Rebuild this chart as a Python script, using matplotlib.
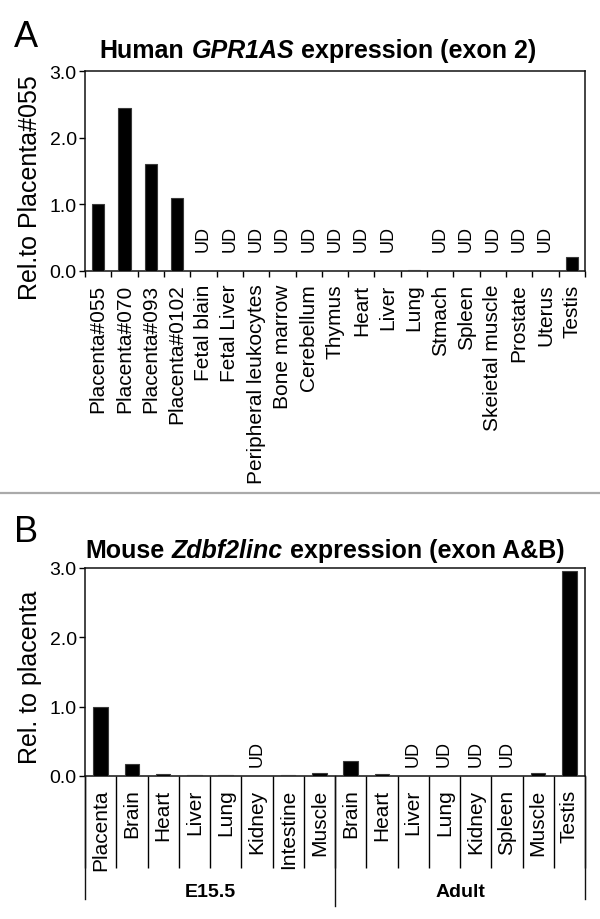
import matplotlib
matplotlib.use("Agg")
import matplotlib.pyplot as plt
import matplotlib.transforms as mtransforms
from matplotlib.lines import Line2D
import numpy as np

plt.rcParams["font.family"] = ["Liberation Sans", "DejaVu Sans"]

# ── Data ──────────────────────────────────────────────────────────────────
human_tissues = ["Placenta#055", "Placenta#070", "Placenta#093", "Placenta#0102",
                 "Fetal blain", "Fetal Liver", "Peripheral leukocytes",
                 "Bone marrow", "Cerebellum", "Thymus", "Heart", "Liver", "Lung",
                 "Stmach", "Spleen", "Skeietal muscle", "Prostate", "Uterus",
                 "Testis"]
# None = undetected (UD)
human_values = [1.0, 2.45, 1.6, 1.1, None, None, None, None, None, None, None,
                None, 0.02, None, None, None, None, None, 0.21]

mouse_tissues = ["Placenta", "Brain", "Heart", "Liver", "Lung", "Kidney",
                 "Intestine", "Muscle",
                 "Brain", "Heart", "Liver", "Lung", "Kidney", "Spleen",
                 "Muscle", "Testis"]
mouse_values = [1.0, 0.18, 0.03, 0.02, 0.01, None, 0.02, 0.04,
                0.21, 0.03, None, None, None, None, 0.05, 2.95]
mouse_groups = ["E15.5", "Adult"]
mouse_group_sizes = [8, 8]

W, H = 600, 920
LBL = 15      # category label size
TICK = 14


def box(l, t, r, b):
    return [l / W, 1 - b / H, (r - l) / W, (b - t) / H]


def style_axes(ax):
    for sp in ax.spines.values():
        sp.set_linewidth(1.1)
        sp.set_color("#111111")
    ax.set_ylim(0, 3.0)
    ax.set_yticks([0, 1, 2, 3])
    ax.set_yticklabels(["0.0", "1.0", "2.0", "3.0"], fontsize=TICK)
    ax.tick_params(axis="y", direction="out", length=4, width=1.0, pad=2)


def draw_bars(ax, values, ud_y):
    n = len(values)
    x = np.arange(n)
    heights = [0 if v is None else v for v in values]
    ax.bar(x, heights, width=0.46, color="black", edgecolor="#3a3a3a",
           linewidth=0.8, zorder=3)
    for xi, v in zip(x, values):
        if v is None:
            ax.text(xi, ud_y, "UD", rotation=90, ha="center", va="bottom",
                    fontsize=13)
    ax.set_xlim(-0.5, n - 0.5)
    return x


def mixed_title(fig, cx, base, parts, size=18):
    # bold title with an italic gene name, laid out piece by piece
    r = fig.canvas.get_renderer()
    gap = 0.278 * size * 100 / 72
    texts = [fig.text(0, 1 - base / H, s, fontsize=size, fontweight="bold",
                      fontstyle=st, va="baseline") for s, st in parts]
    widths = [t.get_window_extent(r).width for t in texts]
    x = cx - (sum(widths) + gap * (len(parts) - 1)) / 2
    for t, w in zip(texts, widths):
        t.set_x(x / W)
        x += w + gap


fig = plt.figure(figsize=(W / 100, H / 100), dpi=100)

# ══════════════════════════════════════════════════════════════════════
# Panel A
# ══════════════════════════════════════════════════════════════════════
axA = fig.add_axes(box(85, 72, 585, 272))
style_axes(axA)
xA = draw_bars(axA, human_values, 0.3)
axA.set_xticks(xA)
axA.set_xticklabels(human_tissues, rotation=90, fontsize=LBL)
axA.tick_params(axis="x", which="major", length=0, pad=9)
axA.set_xticks(np.arange(len(xA) + 1) - 0.5, minor=True)
axA.tick_params(axis="x", which="minor", direction="out", length=4, width=1.0)
axA.set_ylabel("Rel.to Placenta#055", fontsize=18)
axA.yaxis.set_label_coords(-0.086, 0.42)
mixed_title(fig, 318, 58, [("Human", "normal"), ("GPR1AS", "italic"),
                           ("expression (exon 2)", "normal")])
fig.text(14 / W, 1 - 47 / H, "A", fontsize=26, va="baseline")

# separator between panels
fig.add_artist(Line2D([0, 1], [1 - 494 / H] * 2, color="#aaaaaa", lw=1.6,
                      transform=fig.transFigure))

# ══════════════════════════════════════════════════════════════════════
# Panel B
# ══════════════════════════════════════════════════════════════════════
axB = fig.add_axes(box(85, 569, 585, 777))
style_axes(axB)
xB = draw_bars(axB, mouse_values, 0.15)
axB.set_xticks(xB)
axB.set_xticklabels(mouse_tissues, rotation=90, fontsize=LBL)
axB.tick_params(axis="x", which="major", length=0, pad=9)
axB.set_xticks(np.arange(len(xB) + 1) - 0.5, minor=True)
axB.tick_params(axis="x", which="minor", direction="out", length=66, width=1.0)
axB.set_ylabel("Rel. to placenta", fontsize=18)
axB.yaxis.set_label_coords(-0.086, 0.48)
mixed_title(fig, 325, 558, [("Mouse", "normal"), ("Zdbf2linc", "italic"),
                            ("expression (exon A&B)", "normal")])
fig.text(14 / W, 1 - 542 / H, "B", fontsize=26, va="baseline")

# group brackets below the category labels
trans = mtransforms.blended_transform_factory(axB.transData, axB.transAxes)
edges = np.concatenate([[0], np.cumsum(mouse_group_sizes)]) - 0.5
for i, e in enumerate(edges):
    low = -0.625 if 0 < i < len(edges) - 1 else -0.59
    axB.add_line(Line2D([e, e], [0, low], color="#111111", lw=1.0,
                        transform=trans, clip_on=False))
for g, a, b in zip(mouse_groups, edges[:-1], edges[1:]):
    axB.text((a + b) / 2, -0.555, g, transform=trans, ha="center",
             va="center", fontsize=14, fontweight="bold")

fig.savefig("out.png", dpi=100, facecolor="white")
plt.close(fig)
